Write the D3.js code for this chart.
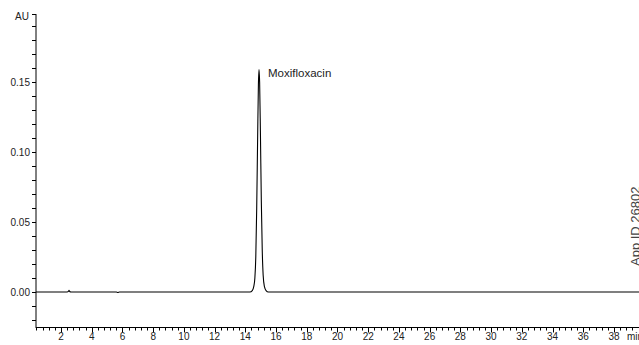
<!DOCTYPE html>
<html>
<head>
<meta charset="utf-8">
<script src="https://cdn.jsdelivr.net/npm/d3@7"></script>
<style>
  body { margin: 0; background: #fff; }
  svg { display: block; font-family: "Liberation Sans", Arial, sans-serif; }
</style>
</head>
<body>
<div id="chart"></div>
<script>
// retention time (min) and absorbance (AU)
var times = [0.37, 2.40, 2.48, 2.52, 2.56, 2.65, 5.60, 5.70, 5.80, 14.30, 14.45, 14.55, 14.62, 14.68, 14.74,
  14.80, 14.85, 14.89, 14.93, 14.98, 15.04, 15.10, 15.16, 15.24, 15.35, 15.50, 39.63];
var values = [0.0000, 0.0000, 0.0004, 0.0012, 0.0004, 0.0000, 0.0000, -0.0003, 0.0000, 0.0000, 0.0010, 0.0040,
  0.0100, 0.0250, 0.0600, 0.1100, 0.1480, 0.1590, 0.1500, 0.1150, 0.0650, 0.0300, 0.0120, 0.0040, 0.0010, 0.0000, 0.0000];
var yTicks = [0.00, 0.05, 0.10, 0.15];
var xTicks = [2, 4, 6, 8, 10, 12, 14, 16, 18, 20, 22, 24, 26, 28, 30, 32, 34, 36, 38];
var peakName = "Moxifloxacin";
var peakTime = 14.89, peakValue = 0.1590;
var appId = "App ID 26802";

var W = 639, H = 345;
var x = d3.scaleLinear().domain([0.37, 39.63]).range([36, 639]);
var y = d3.scaleLinear().domain([-0.0257, 0.1986]).range([328, 14]);

var svg = d3.select("#chart").append("svg").attr("width", W).attr("height", H);

var data = times.map(function(t, i) { return { t: t, v: values[i] }; });

// y axis
var yMinor = d3.range(-0.02, 0.195, 0.01).map(function(d) { return Math.round(d * 100) / 100; });
var yAxis = svg.append("g").attr("transform", "translate(36,0)");
yAxis.append("line").attr("x1", 0).attr("x2", 0).attr("y1", y.range()[1]).attr("y2", y.range()[0])
  .attr("stroke", "#000");
yAxis.append("line").attr("x1", -4).attr("x2", 0).attr("y1", 14.5).attr("y2", 14.5).attr("stroke", "#000");
yAxis.selectAll(".ym").data(yMinor).enter().append("line")
  .attr("x1", -4).attr("x2", 0)
  .attr("y1", function(d) { return Math.round(y(d)) + 0.5; })
  .attr("y2", function(d) { return Math.round(y(d)) + 0.5; })
  .attr("stroke", "#000");
yAxis.selectAll(".yl").data(yTicks).enter().append("text")
  .attr("x", -6).attr("y", function(d) { return y(d); })
  .attr("dy", "0.35em").attr("text-anchor", "end")
  .attr("font-size", 10).attr("fill", "#222")
  .text(function(d) { return d3.format(".2f")(d); });
yAxis.append("text").attr("x", -7).attr("y", 20).attr("text-anchor", "end")
  .attr("font-size", 10).attr("fill", "#222").text("AU");

// x axis
var xMinor = d3.range(0.4, 39.7, 0.4).map(function(d) { return Math.round(d * 10) / 10; });
var xAxis = svg.append("g").attr("transform", "translate(0,327.5)");
xAxis.append("line").attr("x1", 36).attr("x2", W).attr("y1", 0).attr("y2", 0).attr("stroke", "#000");
xAxis.selectAll(".xm").data(xMinor).enter().append("line")
  .attr("x1", function(d) { return Math.round(x(d)) + 0.5; })
  .attr("x2", function(d) { return Math.round(x(d)) + 0.5; })
  .attr("y1", 0)
  .attr("y2", function(d) { return Math.abs(d / 2 - Math.round(d / 2)) < 1e-6 ? 5 : 3; })
  .attr("stroke", "#000");
xAxis.selectAll(".xl").data(xTicks).enter().append("text")
  .attr("x", function(d) { return x(d); }).attr("y", 12.5)
  .attr("text-anchor", "middle").attr("font-size", 10).attr("fill", "#222")
  .text(function(d) { return d; });
xAxis.append("text").attr("x", 627).attr("y", 12.5).attr("font-size", 10).attr("fill", "#222").text("min");

// trace
var line = d3.line().x(function(d) { return x(d.t); }).y(function(d) { return y(d.v); })
  .curve(d3.curveMonotoneX);
svg.append("path").datum(data).attr("d", line)
  .attr("fill", "none").attr("stroke", "#000").attr("stroke-width", 1.1);

// peak label
svg.append("text").attr("x", x(peakTime) + 9).attr("y", y(peakValue) + 8)
  .attr("font-size", 11.5).attr("fill", "#222").text(peakName);

// rotated id at right edge
svg.append("text").attr("transform", "translate(640,266) rotate(-90)")
  .attr("font-size", 13).attr("fill", "#444").text(appId);
</script>
</body>
</html>
